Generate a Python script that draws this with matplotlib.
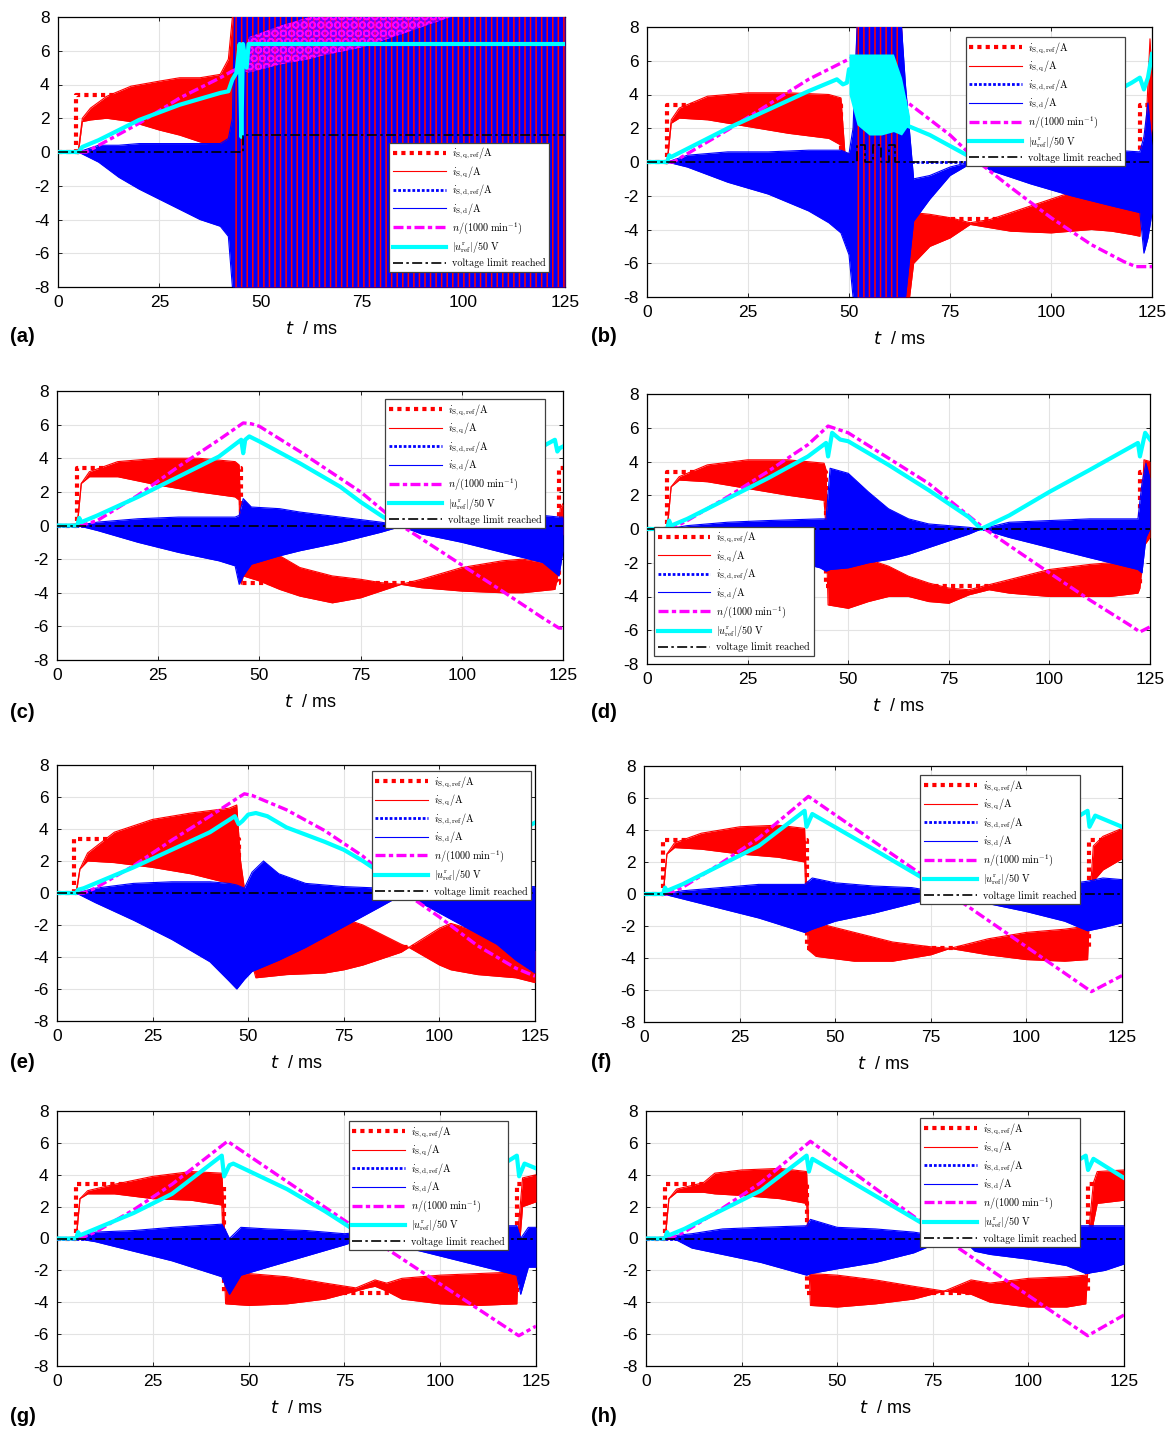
import matplotlib
matplotlib.use("Agg")
import matplotlib.pyplot as plt
from matplotlib.font_manager import FontProperties

plt.rcParams['font.family'] = ['Liberation Sans', 'DejaVu Sans']
plt.rcParams['axes.unicode_minus'] = False
plt.rcParams['hatch.linewidth'] = 1.1

W, H = 1171, 1429

# ---------------- data (t in ms) ----------------
# shared: d-axis current reference is zero everywhere
idref_t = [0, 125]
idref = [0.0, 0.0]

# (a)
a_qref_t = [0, 4.5, 4.5, 125]
a_qref = [0, 0, 3.4, 3.4]
a_q_t = [0, 5, 6, 8, 12, 18, 25, 30, 35, 40, 42, 43, 43.5, 125]
a_q_hi = [0, 0.1, 2.0, 2.6, 3.3, 3.9, 4.2, 4.4, 4.4, 4.6, 5.5, 8, 8, 8]
a_q_lo = [0, -0.1, 1.8, 1.9, 2.0, 1.8, 1.3, 1.0, 0.6, 0.3, 0.2, -3, -8, -8]
a_d_t = [0, 5, 10, 15, 20, 25, 30, 35, 40, 42, 43, 43.5, 125]
a_d_hi = [0, 0, 0.4, 0.4, 0.5, 0.5, 0.5, 0.5, 0.5, 0.8, 2, 8, 8]
a_d_lo = [0, 0, -0.6, -1.5, -2.2, -2.8, -3.4, -4.0, -4.4, -5.0, -8, -8, -8]
a_storm = [43.5, 125]
a_n_t = [0, 7, 20, 30, 40, 43, 45]
a_n = [0, 0, 1.7, 3.2, 4.4, 4.8, 5.0]
a_nb_t = [46, 47, 55, 62, 65, 75, 85, 92, 97]
a_nb_hi = [5.0, 6.8, 7.5, 8, 8, 8, 8, 8, 8]
a_nb_lo = [4.8, 4.7, 5.2, 5.5, 5.7, 6.2, 7.0, 7.6, 8]
a_v_t = [0, 5, 6, 10, 20, 30, 40, 42, 43, 44, 44.8, 45.2, 45.6, 46.5, 47, 125]
a_v = [0, 0, 0.3, 0.7, 1.9, 2.8, 3.5, 3.6, 4.3, 4.7, 6.4, 0.9, 6.4, 5.0, 6.4, 6.4]
a_lim_t = [0, 45.5, 45.5, 125]
a_lim = [0, 0, 1, 1]

# (b)
b_qref_t = [0, 5, 5, 48, 48, 122, 122, 125]
b_qref = [0, 0, 3.4, 3.4, -3.4, -3.4, 3.4, 3.4]
b_q_t = [0, 5, 6, 8, 15, 25, 35, 45, 48, 49, 51, 52, 63, 65, 66, 70, 75, 80, 85,
         90, 100, 105, 110, 115, 120, 122, 122.5, 123.5, 124.5, 125]
b_q_hi = [0, 0.1, 2.5, 3.2, 3.9, 4.1, 4.1, 4.0, 3.8, 0.5, 0.5, 8, 8, -2.5, -3.0, -3.1, -3.3, -3.6, -3.4,
          -3.0, -2.2, -1.8, -1.9, -2.0, -2.5, -3.0, 0.0, 2.0, 7.3, 5.0]
b_q_lo = [0, -0.1, 2.3, 2.6, 2.5, 2.1, 1.7, 1.4, 1.0, -3.4, -3.4, -8, -8, -8, -6.0, -5.0, -4.5, -3.7, -3.9,
          -4.1, -4.2, -4.1, -4.0, -4.1, -4.3, -4.4, -3.0, -1.0, 1.0, 2.0]
b_d_t = [0, 5, 10, 20, 30, 40, 45, 48, 50, 51, 52, 63, 64, 66, 70, 75, 80, 82, 85, 95,
         105, 115, 122, 123, 124, 125]
b_d_hi = [0, 0, 0.4, 0.6, 0.6, 0.7, 0.7, 0.7, 0.5, 2, 8, 8, 4.5, -1.0, -0.8, -0.3, 0.0, 0.1, 0.5, 0.6,
          0.7, 0.7, 0.6, 1.5, 3.5, 1.0]
b_d_lo = [0, 0, -0.3, -1.2, -1.9, -2.9, -3.6, -4.2, -5.5, -8, -8, -8, -8, -3.5, -2.2, -0.8, -0.1, 0.0, -0.5, -1.3,
          -2.0, -2.6, -3.0, -5.4, -4.5, -3.0]
b_storm = [52, 63]
b_n_t = [0, 6.5, 20, 30, 40, 50, 51, 63, 75, 82, 90, 100, 110, 118, 121, 125]
b_n = [0, 0, 1.9, 3.4, 4.9, 6.1, 6.2, 3.8, 1.6, 0, -1.5, -3.3, -4.9, -5.9, -6.2, -6.2]
b_v_t = [0, 5, 5.5, 6, 20, 30, 40, 47, 48.5, 49.5, 50, 63, 64, 66, 70, 80, 81.5, 90, 100, 110,
         120, 122, 123, 124, 125]
b_v = [0, 0, 0.4, 0.3, 2.0, 3.1, 4.2, 4.9, 4.6, 4.7, 5.5, 3.5, 2.2, 2.0, 1.6, 0.3, 0.0, 1.0, 2.2, 3.4,
       4.7, 5.0, 4.3, 5.0, 6.4]
b_vb_t = [50, 52, 55, 58, 61, 63, 65]
b_vb_hi = [6.4, 6.4, 6.4, 6.4, 6.4, 5.0, 2.7]
b_vb_lo = [4.0, 2.2, 1.6, 1.6, 1.8, 1.6, 2.3]
b_lim_t = [0, 52, 52, 54, 54, 56, 56, 58, 58, 60, 60, 61.5, 61.5, 125]
b_lim = [0, 0, 1, 1, 0, 0, 1, 1, 0, 0, 1, 1, 0, 0]

# (c)
c_qref_t = [0, 5, 5, 45.5, 45.5, 124, 124, 125]
c_qref = [0, 0, 3.4, 3.4, -3.4, -3.4, 3.4, 3.4]
c_q_t = [0, 5, 6, 8, 15, 25, 35, 44, 45, 45.5, 46, 50, 55, 60, 68, 75, 80, 85, 90, 100,
         110, 115, 123, 123.7, 124.3, 125]
c_q_hi = [0, 0.1, 2.5, 3.2, 3.8, 4.0, 4.0, 3.8, 3.6, -0.5, -1.0, -1.3, -1.8, -2.5, -3.0, -3.2, -3.4, -3.5, -3.2, -2.5,
          -2.1, -2.0, -2.3, -1.0, 1.0, 1.3]
c_q_lo = [0, -0.1, 2.5, 2.9, 2.9, 2.4, 2.0, 1.7, 1.5, -3.5, -3.0, -3.3, -3.8, -4.2, -4.6, -4.3, -3.9, -3.5, -3.7, -3.9,
          -4.0, -4.0, -3.8, -3.0, -1.0, -0.5]
c_d_t = [0, 5, 10, 20, 30, 40, 44, 45, 46, 48, 55, 60, 70, 80, 85, 90, 100, 110, 120, 124, 125]
c_d_hi = [0, 0, 0.2, 0.4, 0.5, 0.5, 0.5, 0.6, 1.6, 1.1, 1.0, 0.8, 0.5, 0.2, 0.0, 0.3, 0.5, 0.6, 0.6, 0.5, 0.5]
c_d_lo = [0, 0, -0.3, -1.0, -1.6, -2.1, -2.4, -3.5, -3.0, -2.3, -1.8, -1.5, -1.0, -0.4, -0.05, -0.5, -1.0, -1.6,
          -2.2, -3.0, -1.5]
c_n_t = [0, 6, 10, 20, 30, 40, 46, 48, 50, 60, 70, 75, 85, 100, 110, 120, 124, 125]
c_n = [0, 0, 0.3, 1.8, 3.5, 5.1, 6.1, 6.05, 5.9, 4.4, 2.8, 2.0, 0, -2.35, -3.9, -5.5, -6.1, -6.1]
c_v_t = [0, 5, 5.5, 6, 10, 20, 30, 40, 45.5, 46, 46.5, 47.5, 50, 60, 70, 75, 80, 84, 85, 90,
         100, 110, 123, 123.6, 124.2, 125]
c_v = [0, 0, 0.45, 0.2, 0.6, 1.7, 2.9, 4.1, 5.1, 4.3, 5.1, 5.3, 5.0, 3.7, 2.3, 1.4, 0.6, 0.0, 0.1, 0.8,
       2.1, 3.4, 5.1, 4.4, 4.6, 4.7]
c_lim_t = [0, 125]
c_lim = [0, 0]

# (d)
d_qref_t = [0, 5, 5, 44.5, 44.5, 122.5, 122.5, 125]
d_qref = [0, 0, 3.4, 3.4, -3.4, -3.4, 3.4, 3.4]
d_q_t = [0, 5, 6, 8, 15, 25, 35, 44, 44.5, 45, 50, 55, 60, 65, 70, 75, 80, 85, 90, 100,
         110, 115, 122, 122.5, 123.5, 125]
d_q_hi = [0, 0.1, 2.5, 3.1, 3.8, 4.1, 4.1, 3.9, 3.5, -1.3, -1.5, -1.8, -2.2, -2.8, -3.2, -3.5, -3.6, -3.3, -3.0, -2.4,
          -2.1, -2.0, -2.1, -1.0, 4.1, 4.0]
d_q_lo = [0, -0.1, 2.5, 2.9, 2.8, 2.4, 2.0, 1.7, 0.0, -4.5, -4.7, -4.3, -4.0, -4.0, -4.3, -4.4, -3.9, -3.6, -3.8, -4.0,
          -4.0, -4.0, -3.8, -3.5, -1.0, -0.5]
d_d_t = [0, 5, 10, 20, 30, 43, 44.5, 45.5, 50, 55, 60, 65, 70, 80, 83, 90, 100, 110, 122, 123, 124, 125]
d_d_hi = [0, 0, 0.2, 0.4, 0.5, 0.6, 0.6, 3.6, 3.3, 2.2, 1.2, 0.6, 0.3, 0.1, 0.0, 0.4, 0.5, 0.6, 0.6, 2.7, 3.9, 3.0]
d_d_lo = [0, 0, -0.2, -0.9, -1.5, -2.3, -2.5, -2.4, -2.3, -2.0, -1.8, -1.5, -1.1, -0.3, 0.0, -0.5, -1.1, -1.7,
          -2.4, -2.6, -0.5, 0.0]
d_n_t = [0, 6, 10, 20, 30, 40, 45, 50, 60, 70, 84, 100, 110, 120, 122.5, 125]
d_n = [0, 0, 0.5, 1.9, 3.4, 5.0, 6.1, 5.7, 4.2, 2.7, 0, -2.6, -4.2, -5.7, -6.1, -5.8]
d_v_t = [0, 5, 5.5, 6, 10, 20, 30, 40, 44.5, 45, 46, 48, 50, 55, 60, 70, 80, 83, 90, 100,
         110, 122, 122.5, 123.8, 125]
d_v = [0, 0, 0.5, 0.2, 0.6, 1.8, 3.0, 4.3, 5.1, 4.3, 5.7, 5.3, 5.2, 4.5, 3.8, 2.3, 0.7, 0.0, 0.8, 2.2,
       3.5, 5.1, 4.3, 5.7, 5.3]
d_lim_t = [0, 125]
d_lim = [0, 0]

# (e)
e_qref_t = [0, 4.5, 4.5, 47.5, 47.5, 125]
e_qref = [0, 0, 3.4, 3.4, -3.4, -3.4]
e_q_t = [0, 5, 6, 8, 15, 25, 35, 45, 47, 48, 49, 50, 52, 60, 70, 75, 80, 90, 92, 100,
         103, 110, 120, 125]
e_q_hi = [0, 0.1, 1.5, 2.5, 3.8, 4.6, 5.0, 5.3, 5.5, 2.0, 0.3, -1.5, -3.0, -2.5, -1.8, -1.6, -2.0, -3.2, -3.4, -2.2,
          -1.9, -2.4, -3.5, -3.6]
e_q_lo = [0, -0.1, 1.5, 2.0, 1.9, 1.6, 1.2, 0.6, 0.0, -0.3, -0.3, -3.5, -5.3, -5.1, -5.0, -4.8, -4.5, -3.7, -3.4, -4.5,
          -4.8, -5.1, -5.3, -5.6]
e_d_t = [0, 5, 10, 20, 30, 40, 45, 47, 49, 51, 54, 58, 65, 75, 85, 91, 95, 105, 115, 120, 125]
e_d_hi = [0, 0, 0.3, 0.6, 0.7, 0.7, 0.6, 0.5, 0.3, 1.3, 2.0, 1.2, 0.6, 0.4, 0.3, 0.0, 0.4, 0.5, 0.4, 0.4, 0.4]
e_d_lo = [0, 0, -0.6, -1.7, -2.9, -4.3, -5.5, -6.0, -5.4, -4.9, -4.6, -4.2, -3.4, -2.1, -0.8, 0.0, -0.6, -1.9,
          -3.2, -4.2, -5.0]
e_n_t = [0, 7, 10, 20, 30, 40, 47, 49, 51, 60, 70, 80, 91, 100, 110, 120, 125]
e_n = [0, 0, 0.3, 1.7, 3.3, 4.8, 5.9, 6.2, 6.1, 5.2, 3.9, 2.3, 0.0, -1.5, -3.3, -4.7, -5.2]
e_v_t = [0, 5, 5.5, 7, 10, 20, 30, 40, 46.5, 47.5, 48.5, 50, 52, 55, 60, 70, 75, 80, 90, 91.5,
         95, 100, 110, 125]
e_v = [0, 0, 0.2, 0.3, 0.6, 1.6, 2.7, 3.8, 4.8, 4.3, 4.5, 4.9, 5.0, 4.8, 4.1, 3.2, 2.7, 2.0, 0.4, 0.1,
       0.6, 1.2, 2.5, 4.4]
e_lim_t = [0, 125]
e_lim = [0, 0]

# (f)
f_qref_t = [0, 5, 5, 42.5, 42.5, 116.5, 116.5, 125]
f_qref = [0, 0, 3.4, 3.4, -3.4, -3.4, 3.4, 3.4]
f_q_t = [0, 5, 6, 8, 15, 25, 35, 42, 42.5, 43, 45, 55, 65, 75, 80, 90, 100, 110, 116, 116.8,
         117.5, 120, 125]
f_q_hi = [0, 0.1, 2.5, 3.2, 3.8, 4.2, 4.3, 4.1, 0.5, -2.0, -1.8, -2.4, -3.0, -3.3, -3.4, -2.8, -2.4, -2.2, -2.0, 0.5,
          3.0, 3.6, 4.1]
f_q_lo = [0, -0.1, 2.5, 2.9, 2.8, 2.5, 2.3, 2.0, -1.0, -3.5, -3.9, -4.2, -4.2, -3.8, -3.4, -3.8, -4.1, -4.2, -4.1, 0.5,
          0.8, 1.5, 2.2]
f_d_t = [0, 5, 10, 20, 30, 42, 44, 50, 60, 70, 80, 90, 100, 110, 116, 120, 125]
f_d_hi = [0, 0, 0.2, 0.4, 0.6, 0.6, 1.0, 0.7, 0.5, 0.4, 0.0, 0.4, 0.5, 0.6, 0.8, 1.0, 0.9]
f_d_lo = [0, 0, -0.3, -0.9, -1.5, -2.4, -2.2, -1.7, -1.2, -0.6, 0.0, -0.6, -1.1, -1.7, -2.3, -2.1, -1.8]
f_n_t = [0, 6, 10, 20, 30, 43, 80, 117, 125]
f_n = [0, 0, 0.4, 1.9, 3.5, 6.1, 0, -6.1, -5.1]
f_v_t = [0, 5, 5.5, 6, 10, 20, 30, 42, 42.5, 44, 60, 70, 80, 90, 100, 116, 116.5, 118, 125]
f_v = [0, 0, 0.4, 0.2, 0.6, 1.8, 3.0, 5.2, 4.2, 5.0, 2.8, 1.4, 0.0, 1.4, 2.9, 5.2, 4.2, 4.9, 4.2]
f_lim_t = [0, 125]
f_lim = [0, 0]

# (g)
g_qref_t = [0, 5, 5, 43.5, 43.5, 120, 120, 125]
g_qref = [0, 0, 3.4, 3.4, -3.4, -3.4, 3.4, 3.4]
g_q_t = [0, 5, 6, 8, 15, 25, 35, 43, 43.5, 44, 50, 60, 70, 78, 81, 83, 86, 90, 100, 110,
         120, 120.5, 121.5, 125]
g_q_hi = [0, 0.1, 2.5, 3.0, 3.4, 3.9, 4.2, 4.1, 2.0, -2.2, -2.2, -2.4, -2.8, -3.1, -2.8, -2.6, -2.8, -2.5, -2.3, -2.2,
          -2.1, 1.0, 3.8, 4.0]
g_q_lo = [0, -0.1, 2.5, 2.8, 2.8, 2.5, 2.4, 2.1, -1.0, -4.1, -4.2, -4.1, -3.8, -3.3, -3.1, -3.0, -3.3, -3.8, -4.1, -4.2,
          -4.1, -1.0, 2.0, 2.3]
g_d_t = [0, 5, 10, 20, 30, 43, 44, 45, 48, 55, 65, 75, 80, 82, 86, 95, 105, 115, 120, 121, 123, 125]
g_d_hi = [0, 0, 0.4, 0.5, 0.7, 0.9, 0.5, 0.0, 0.7, 0.6, 0.5, 0.3, 0.4, 0.0, 0.2, 0.6, 0.8, 0.8, 0.8, 0.0, 0.7, 0.7]
g_d_lo = [0, 0, -0.2, -0.8, -1.4, -2.4, -3.0, -3.5, -2.3, -1.8, -1.1, -0.4, 0.0, 0.0, -0.3, -0.8, -1.4, -2.0,
          -2.3, -3.5, -1.8, -1.8]
g_n_t = [0, 6, 10, 20, 30, 44.5, 82, 120.5, 125]
g_n = [0, 0, 0.4, 1.8, 3.4, 6.1, 0, -6.1, -5.5]
g_v_t = [0, 5, 5.5, 6, 10, 20, 30, 43, 43.6, 45, 46, 60, 70, 81, 90, 100, 110, 120, 120.6, 122, 125]
g_v = [0, 0, 0.4, 0.2, 0.6, 1.6, 2.8, 5.2, 3.9, 4.6, 4.7, 3.1, 1.7, 0.0, 1.1, 2.4, 3.7, 5.2, 3.9, 4.7, 4.4]
g_lim_t = [0, 125]
g_lim = [0, 0]

# (h)
h_qref_t = [0, 5, 5, 42, 42, 115.5, 115.5, 125]
h_qref = [0, 0, 3.4, 3.4, -3.4, -3.4, 3.4, 3.4]
h_q_t = [0, 5, 6, 8, 15, 18, 25, 35, 42, 42.5, 43, 50, 60, 70, 78, 82, 85, 90, 100, 110,
         115, 115.8, 117, 118, 125]
h_q_hi = [0, 0.1, 2.5, 3.1, 3.5, 4.1, 4.3, 4.4, 4.2, 1.0, -2.2, -2.3, -2.6, -3.0, -3.3, -2.9, -2.6, -2.8, -2.5, -2.4,
          -2.3, 0.5, 3.5, 4.2, 4.3]
h_q_lo = [0, -0.1, 2.5, 2.9, 2.9, 2.8, 2.7, 2.5, 2.2, -1.0, -4.2, -4.3, -4.1, -3.8, -3.3, -3.4, -3.5, -4.0, -4.3, -4.3,
          -4.1, -1.0, 1.0, 2.2, 2.4]
h_d_t = [0, 5, 8, 12, 20, 30, 42, 43, 50, 60, 70, 78, 83, 86, 90, 100, 110, 115, 120, 125]
h_d_hi = [0, 0, 0.2, 0.3, 0.6, 0.7, 0.8, 1.2, 0.7, 0.6, 0.4, 0.1, 0.1, 0.1, 0.4, 0.7, 0.8, 0.8, 0.8, 0.8]
h_d_lo = [0, 0, -0.1, -0.6, -1.0, -1.5, -2.3, -2.2, -1.9, -1.5, -0.9, -0.1, -0.1, -0.8, -1.0, -1.3, -1.7, -2.2,
          -2.0, -1.6]
h_n_t = [0, 6, 10, 20, 30, 43, 78, 115.5, 125]
h_n = [0, 0, 0.4, 1.9, 3.5, 6.1, 0, -6.1, -4.8]
h_v_t = [0, 5, 5.5, 6, 10, 20, 30, 42, 42.6, 43.5, 79, 90, 100, 115, 115.6, 117, 125]
h_v = [0, 0, 0.4, 0.2, 0.6, 1.8, 3.0, 5.2, 4.2, 5.0, 0.0, 1.6, 3.0, 5.2, 4.3, 5.0, 3.8]
h_lim_t = [0, 125]
h_lim = [0, 0]

labels = [r'$i_{\mathrm{S,q,ref}}/\mathrm{A}$', r'$i_{\mathrm{S,q}}/\mathrm{A}$',
          r'$i_{\mathrm{S,d,ref}}/\mathrm{A}$', r'$i_{\mathrm{S,d}}/\mathrm{A}$',
          r'$n/(1000\ \mathrm{min}^{-1})$', r'$|u^{\mathrm{r}}_{\mathrm{ref}}|/50\ \mathrm{V}$',
          'voltage limit reached']

# ---------------- layout (pixel boxes: left, top, right, bottom) ----------------
panels = [
    dict(tag='(a)', box=(58, 17, 565, 287), lab=(10, 337),
         qref=(a_qref_t, a_qref), q=(a_q_t, a_q_lo, a_q_hi), d=(a_d_t, a_d_lo, a_d_hi),
         n=(a_n_t, a_n), v=(a_v_t, a_v), lim=(a_lim_t, a_lim), storm=a_storm,
         nband=(a_nb_t, a_nb_lo, a_nb_hi), vband=None, leg=('lower right', (0.968, 0.056))),
    dict(tag='(b)', box=(647, 27, 1152, 297), lab=(591, 337),
         qref=(b_qref_t, b_qref), q=(b_q_t, b_q_lo, b_q_hi), d=(b_d_t, b_d_lo, b_d_hi),
         n=(b_n_t, b_n), v=(b_v_t, b_v), lim=(b_lim_t, b_lim), storm=b_storm,
         nband=None, vband=(b_vb_t, b_vb_lo, b_vb_hi), leg=('upper right', (0.947, 0.963))),
    dict(tag='(c)', box=(57, 391, 563, 660), lab=(10, 712),
         qref=(c_qref_t, c_qref), q=(c_q_t, c_q_lo, c_q_hi), d=(c_d_t, c_d_lo, c_d_hi),
         n=(c_n_t, c_n), v=(c_v_t, c_v), lim=(c_lim_t, c_lim), storm=None,
         nband=None, vband=None, leg=('upper right', (0.964, 0.970))),
    dict(tag='(d)', box=(647, 394, 1150, 664), lab=(591, 712),
         qref=(d_qref_t, d_qref), q=(d_q_t, d_q_lo, d_q_hi), d=(d_d_t, d_d_lo, d_d_hi),
         n=(d_n_t, d_n), v=(d_v_t, d_v), lim=(d_lim_t, d_lim), storm=None,
         nband=None, vband=None, leg=('lower left', (0.014, 0.03))),
    dict(tag='(e)', box=(57, 765, 535, 1021), lab=(10, 1062),
         qref=(e_qref_t, e_qref), q=(e_q_t, e_q_lo, e_q_hi), d=(e_d_t, e_d_lo, e_d_hi),
         n=(e_n_t, e_n), v=(e_v_t, e_v), lim=(e_lim_t, e_lim), storm=None,
         nband=None, vband=None, leg=('upper right', (0.992, 0.977))),
    dict(tag='(f)', box=(644, 766, 1122, 1022), lab=(591, 1062),
         qref=(f_qref_t, f_qref), q=(f_q_t, f_q_lo, f_q_hi), d=(f_d_t, f_d_lo, f_d_hi),
         n=(f_n_t, f_n), v=(f_v_t, f_v), lim=(f_lim_t, f_lim), storm=None,
         nband=None, vband=None, leg=('upper right', (0.912, 0.965))),
    dict(tag='(g)', box=(57, 1111, 536, 1366), lab=(10, 1416),
         qref=(g_qref_t, g_qref), q=(g_q_t, g_q_lo, g_q_hi), d=(g_d_t, g_d_lo, g_d_hi),
         n=(g_n_t, g_n), v=(g_v_t, g_v), lim=(g_lim_t, g_lim), storm=None,
         nband=None, vband=None, leg=('upper right', (0.942, 0.961))),
    dict(tag='(h)', box=(646, 1111, 1124, 1366), lab=(591, 1416),
         qref=(h_qref_t, h_qref), q=(h_q_t, h_q_lo, h_q_hi), d=(h_d_t, h_d_lo, h_d_hi),
         n=(h_n_t, h_n), v=(h_v_t, h_v), lim=(h_lim_t, h_lim), storm=None,
         nband=None, vband=None, leg=('upper right', (0.908, 0.973))),
]

leg_font = FontProperties(family='cmr10', size=7.3, math_fontfamily='cm')


def draw_panel(ax, p):
    t, y = p['qref']
    ax.plot(t, y, color='red', lw=3, ls=(0, (1, 1)), zorder=2, label=labels[0])
    t, lo, hi = p['q']
    ax.fill_between(t, lo, hi, color='red', lw=0, zorder=3)
    ax.plot(t, hi, color='red', lw=0.8, zorder=3, label=labels[1])
    ax.plot(t, lo, color='red', lw=0.8, zorder=3)
    ax.plot(idref_t, idref, color='blue', lw=2, ls=(0, (1, 0.7)), zorder=4, label=labels[2])
    t, lo, hi = p['d']
    ax.fill_between(t, lo, hi, color='blue', lw=0, zorder=5)
    ax.plot(t, hi, color='blue', lw=0.8, zorder=5, label=labels[3])
    ax.plot(t, lo, color='blue', lw=0.8, zorder=5)
    if p['storm'] is not None:
        ax.fill_between(p['storm'], -8, 8, facecolor='blue', edgecolor='red',
                        hatch='|||', lw=0, zorder=5.5)
    if p['nband'] is not None:
        t, lo, hi = p['nband']
        ax.fill_between(t, lo, hi, facecolor=(1, 0, 1, 0.45), edgecolor='magenta',
                        hatch='OO', lw=0, zorder=6)
    t, y = p['n']
    ax.plot(t, y, color='magenta', lw=2.4, ls=(0, (3, 1, 1.3, 1)), zorder=6, label=labels[4])
    if p['vband'] is not None:
        t, lo, hi = p['vband']
        ax.fill_between(t, lo, hi, color='cyan', lw=0, zorder=7)
    t, y = p['v']
    ax.plot(t, y, color='cyan', lw=3, zorder=7, label=labels[5])
    t, y = p['lim']
    ax.plot(t, y, color='black', lw=1.2, ls=(0, (6, 2, 1.5, 2)), zorder=8, label=labels[6])

    ax.set_xlim(0, 125)
    ax.set_ylim(-8, 8)
    ax.set_xticks([0, 25, 50, 75, 100, 125])
    ax.set_yticks(range(-8, 9, 2))
    ax.tick_params(direction='in', length=3, width=0.6, top=True, right=True,
                   labelsize=12.5, pad=6)
    ax.grid(True, color='#e3e3e3', lw=0.8)
    ax.set_axisbelow(True)
    for s in ax.spines.values():
        s.set_linewidth(0.9)
    ax.set_xlabel(r'$t$  / ms', fontsize=13, labelpad=8)

    loc, anchor = p['leg']
    leg = ax.legend(loc=loc, bbox_to_anchor=anchor, prop=leg_font, fancybox=False,
                    edgecolor='#404040', framealpha=1, handlelength=5.2, handletextpad=0.6,
                    labelspacing=0.32, borderpad=0.35, borderaxespad=0)
    leg.get_frame().set_linewidth(0.9)
    leg.set_zorder(20)


fig = plt.figure(figsize=(W / 100, H / 100), dpi=100)
for p in panels:
    l, t, r, b = p['box']
    ax = fig.add_axes([l / W, 1 - b / H, (r - l) / W, (b - t) / H])
    draw_panel(ax, p)
    x, y = p['lab']
    fig.text(x / W, 1 - y / H, p['tag'], fontsize=14.5, fontweight='bold', va='center', ha='left')

fig.savefig('out.png', dpi=100)
